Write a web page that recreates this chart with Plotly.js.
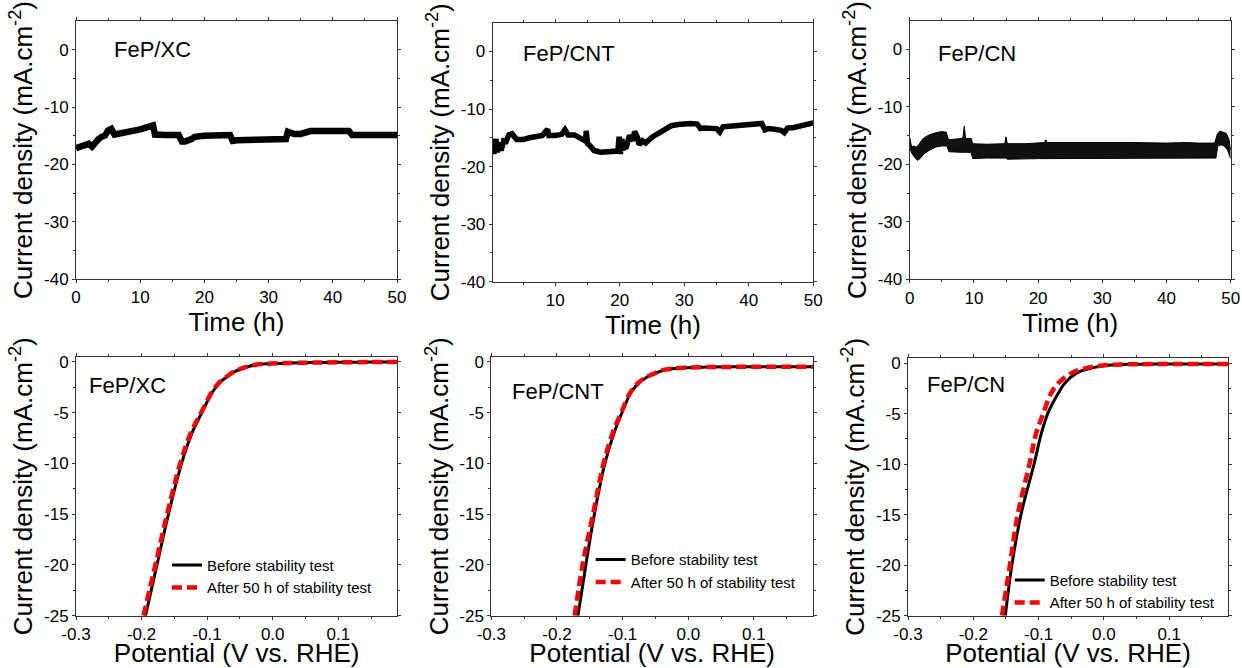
<!DOCTYPE html>
<html>
<head>
<meta charset="utf-8">
<script src="https://cdn.plot.ly/plotly-3.0.1.min.js"></script>
<style>html,body{margin:0;padding:0;background:#fff;}#chart{width:1242px;height:668px;}</style>
</head>
<body>
<div id="chart"></div>
<script>
// ---------- DATA ----------
var panelLabels = ['FeP/XC', 'FeP/CNT', 'FeP/CN'];
var seriesNames = ['Before stability test', 'After 50 h of stability test'];

// chronoamperometry, FeP/XC
var xcTime = [0, 1, 2, 2.5, 3, 3.5, 4, 4.5, 5, 5.5, 6, 8, 10, 12, 12.3, 14, 16, 16.5, 17, 18, 18.5, 20, 22, 24, 24.4, 25, 28, 30, 32.7, 33, 34, 35, 36.5, 38, 40, 42.5, 43, 45, 48, 50];
var xcJ = [-17.2, -16.8, -16.4, -16.9, -16.0, -15.6, -15.2, -15.0, -14.1, -13.8, -14.8, -14.4, -13.9, -13.2, -14.8, -14.9, -14.9, -16.0, -16.0, -15.6, -15.2, -15.0, -14.9, -14.9, -15.9, -15.8, -15.7, -15.6, -15.6, -14.3, -14.7, -14.7, -14.2, -14.2, -14.2, -14.2, -14.9, -14.9, -14.9, -14.9];

// chronoamperometry, FeP/CNT
var cntTime = [0.3, 0.5, 0.8, 1.0, 1.3, 1.6, 2.0, 2.4, 2.8, 3.3, 4, 5, 6, 7, 8, 8.8, 9, 10, 11, 11.5, 12, 13, 14, 14.7, 14.8, 15, 15.5, 16, 17, 18, 19, 19.7, 19.9, 20.1, 20.3, 20.6, 21, 21.5, 22, 22.3, 22.7, 23, 23.5, 24, 25, 26, 27, 28, 29, 30, 31, 32, 32.5, 33, 34, 35, 35.5, 36, 37, 38, 40, 41, 42, 42.5, 43, 44, 45, 45.5, 46, 47, 48, 50];
var cntJ = [-15.5, -17.8, -15.2, -17.5, -15.8, -17.2, -15.5, -15.6, -14.5, -14.3, -15.3, -15.3, -15.0, -14.8, -14.6, -13.5, -14.6, -14.6, -14.4, -13.6, -14.5, -14.5, -15.2, -15.6, -13.8, -16.0, -16.5, -17.2, -17.5, -17.4, -17.2, -17.3, -14.8, -17.8, -15.2, -16.8, -16.6, -14.6, -15.5, -13.9, -14.8, -16.2, -15.5, -15.9, -14.9, -14.3, -13.5, -12.9, -12.7, -12.5, -12.5, -12.6, -13.4, -13.3, -13.3, -13.4, -14.0, -13.1, -13.0, -12.9, -12.5, -12.4, -12.5, -13.6, -13.4, -13.5, -13.7, -14.1, -13.3, -13.2, -12.9, -12.4];

// chronoamperometry, FeP/CN (noisy band: lower and upper envelopes)
var cnLowTime = [0, 0.4, 0.8, 1.2, 1.6, 2.2, 3, 4, 5, 5.8, 6.1, 7, 8, 9, 9.6, 9.8, 12, 15, 15.2, 20, 25, 30, 35, 40, 45, 47.7, 48.0, 48.5, 49, 49.5, 50];
var cnLowJ = [-17.2, -18.2, -18.8, -19.3, -19.0, -18.2, -17.6, -17.0, -16.8, -16.8, -17.8, -17.9, -17.9, -17.9, -18.0, -19.0, -18.9, -18.9, -19.1, -19.0, -19.0, -19.0, -19.0, -19.0, -19.0, -18.9, -16.8, -16.6, -16.8, -17.5, -19.0];
var cnHighTime = [0, 0.3, 0.6, 1.0, 1.4, 2.0, 2.5, 3, 4, 5, 5.7, 6.0, 6.3, 7, 8, 8.3, 8.5, 8.7, 9, 9.6, 9.8, 12, 14.8, 15.0, 15.2, 18, 21.0, 21.2, 21.4, 25, 30, 35, 40, 43, 45, 47.5, 47.9, 48.3, 48.8, 49.3, 49.7, 50];
var cnHighJ = [-15.3, -17.0, -16.8, -17.0, -16.6, -15.6, -15.2, -14.9, -14.5, -14.3, -14.4, -15.6, -15.7, -15.6, -15.5, -15.3, -13.3, -15.5, -15.5, -15.5, -16.4, -16.5, -16.4, -15.2, -16.4, -16.4, -16.2, -15.7, -16.2, -16.2, -16.1, -16.2, -16.3, -16.2, -16.3, -16.3, -14.8, -14.2, -14.4, -14.6, -15.5, -17.5];

// polarization curves
var xcJpol = [-25, -20, -15, -10, -7, -5, -3, -2, -1.4, -1, -0.7, -0.5, -0.3, -0.2, -0.13, -0.08, -0.05, -0.03, -0.02];
var xcVbefore = [-0.194, -0.1765, -0.159, -0.139, -0.123, -0.108, -0.092, -0.080, -0.068, -0.059, -0.048, -0.039, -0.025, -0.008, 0.02, 0.06, 0.1, 0.15, 0.19];
var xcVafter = [-0.197, -0.179, -0.161, -0.141, -0.125, -0.109, -0.093, -0.081, -0.069, -0.060, -0.049, -0.040, -0.026, -0.009, 0.02, 0.06, 0.1, 0.15, 0.19];

var cntJpol = [-25, -20, -15, -10, -7, -5, -3, -2, -1.6, -1.3, -0.8, -0.6, -0.52, -0.5, -0.5, -0.5];
var cntVbefore = [-0.168, -0.156, -0.143, -0.127, -0.113, -0.101, -0.087, -0.074, -0.065, -0.056, -0.036, -0.010, 0.03, 0.08, 0.13, 0.19];
var cntVafter = [-0.173, -0.161, -0.145, -0.129, -0.115, -0.102, -0.088, -0.075, -0.066, -0.057, -0.037, -0.011, 0.03, 0.08, 0.13, 0.19];

var cnJpol = [-25, -20, -15, -10, -7, -5, -3, -2, -1, -0.5, -0.2, -0.12, -0.1, -0.1, -0.1];
var cnVbefore = [-0.151, -0.141, -0.127, -0.107, -0.096, -0.086, -0.070, -0.060, -0.042, -0.019, 0.011, 0.05, 0.1, 0.15, 0.19];
var cnVafter = [-0.156, -0.144, -0.132, -0.114, -0.104, -0.093, -0.081, -0.070, -0.050, -0.027, 0.005, 0.05, 0.1, 0.15, 0.19];

// tick labels
var topXTicks = [0, 10, 20, 30, 40, 50];
var topXText = ['0', '10', '20', '30', '40', '50'];
var topXMinor = [5, 15, 25, 35, 45];
var topYTicks = [-40, -30, -20, -10, 0];
var topYText = ['-40', '-30', '-20', '-10', '0'];
var topYMinor = [-35, -25, -15, -5];
var botXTicks = [-0.3, -0.2, -0.1, 0, 0.1];
var botXText = ['-0.3', '-0.2', '-0.1', '0.0', '0.1'];
var botXMinor = [-0.25, -0.15, -0.05, 0.05, 0.15];
var botYTicks = [-25, -20, -15, -10, -5, 0];
var botYText = ['-25', '-20', '-15', '-10', '-5', '0'];
var botYMinor = [-22.5, -17.5, -12.5, -7.5, -2.5];

var timeTitle = 'Time (h)';
var potTitle = 'Potential (V vs. RHE)';
var jTitle = 'Current density (mA.cm<sup>-2</sup>)';

// ---------- LAYOUT HELPERS ----------
var W = 1242, H = 668;
function dx(a, b) { return [a / W, b / W]; }
function dy(top, bottom) { return [1 - bottom / H, 1 - top / H]; }

var tickFont = {family: 'Liberation Sans, Arial, sans-serif', size: 17, color: '#000'};
var titleFont = {family: 'Liberation Sans, Arial, sans-serif', size: 26, color: '#000'};
var legFont = {family: 'Liberation Sans, Arial, sans-serif', size: 15, color: '#000'};

function minorOf(vals) {
  return {ticks: 'outside', ticklen: 2, tickcolor: '#333', showgrid: false, tickmode: 'array', tickvals: vals};
}
function axis(opts) {
  var a = {
    showline: true, linecolor: '#333', linewidth: 1, mirror: 'allticks',
    ticks: 'outside', ticklen: 3, tickwidth: 1, tickcolor: '#333',
    showgrid: false, zeroline: false, fixedrange: true,
    tickfont: tickFont, tickmode: 'array'
  };
  for (var k in opts) a[k] = opts[k];
  return a;
}

var layout = {
  width: W, height: H,
  margin: {l: 0, r: 0, t: 0, b: 0},
  paper_bgcolor: '#fff', plot_bgcolor: '#fff',
  showlegend: true,
  annotations: [],
  legend: {x: 167 / W, y: 1 - 548.8 / H, xanchor: 'left', yanchor: 'top', traceorder: 'normal', bgcolor: 'rgba(0,0,0,0)', font: legFont},
  legend2: {x: 590.7 / W, y: 1 - 543.3 / H, xanchor: 'left', yanchor: 'top', traceorder: 'normal', bgcolor: 'rgba(0,0,0,0)', font: legFont},
  legend3: {x: 1009.7 / W, y: 1 - 563.8 / H, xanchor: 'left', yanchor: 'top', traceorder: 'normal', bgcolor: 'rgba(0,0,0,0)', font: legFont}
};

var topDomX = [dx(76, 397), dx(492.7, 813.3), dx(909.7, 1230.7)];
var topDomY = [dy(21, 279), dy(22.7, 281.7), dy(20.7, 279.3)];
var botDomX = [dx(76, 397.3), dx(491.3, 813), dx(908, 1228)];
var botDomY = [dy(356.7, 615.7), dy(356.7, 615.7), dy(358, 615.7)];
var topXRange = [[0, 50], [0.3, 50], [0, 50]];

for (var i = 0; i < 3; i++) {
  var n = i + 1, nb = i + 4;
  var xs = n === 1 ? '' : String(n);
  layout['xaxis' + xs] = axis({domain: topDomX[i], anchor: 'y' + xs, range: topXRange[i],
    tickvals: topXTicks, ticktext: topXText, minor: minorOf(topXMinor),
    title: {text: timeTitle, font: titleFont, standoff: 3}});
  layout['yaxis' + xs] = axis({domain: topDomY[i], anchor: 'x' + xs, range: [-40, 5],
    tickvals: topYTicks, ticktext: topYText, minor: minorOf(topYMinor),
    title: {text: jTitle, font: titleFont, standoff: 3}});
  layout['xaxis' + nb] = axis({domain: botDomX[i], anchor: 'y' + nb, range: [-0.3, 0.19],
    tickvals: botXTicks, ticktext: botXText, minor: minorOf(botXMinor),
    title: {text: potTitle, font: titleFont, standoff: 3}});
  layout['yaxis' + nb] = axis({domain: botDomY[i], anchor: 'x' + nb, range: [-25, 0.5],
    tickvals: botYTicks, ticktext: botYText, minor: minorOf(botYMinor),
    title: {text: jTitle, font: titleFont, standoff: 3}});
}

var labelFont = {family: 'Liberation Sans, Arial, sans-serif', size: 22, color: '#000'};
var labelPos = [
  ['x', 'y', 0.112, 0.888], ['x2', 'y2', 0.089, 0.882], ['x3', 'y3', 0.083, 0.874],
  ['x4', 'y4', 0.034, 0.888], ['x5', 'y5', 0.057, 0.866], ['x6', 'y6', 0.054, 0.896]
];
labelPos.forEach(function (p, k) {
  layout.annotations.push({text: panelLabels[k % 3], xref: p[0] + ' domain', yref: p[1] + ' domain',
    x: p[2], y: p[3], xanchor: 'left', yanchor: 'middle', showarrow: false, font: labelFont});
});

// ---------- TRACES ----------
var data = [];
data.push({x: xcTime, y: xcJ, xaxis: 'x', yaxis: 'y', mode: 'lines', showlegend: false,
  line: {color: '#000', width: 6.5}, hoverinfo: 'skip'});
data.push({x: cntTime, y: cntJ, xaxis: 'x2', yaxis: 'y2', mode: 'lines', showlegend: false,
  line: {color: '#000', width: 5.5}, hoverinfo: 'skip'});
data.push({x: cnLowTime, y: cnLowJ, xaxis: 'x3', yaxis: 'y3', mode: 'lines', showlegend: false, legend: 'legend3',
  line: {color: '#000', width: 1}, hoverinfo: 'skip'});
data.push({x: cnHighTime, y: cnHighJ, xaxis: 'x3', yaxis: 'y3', mode: 'lines', showlegend: false, legend: 'legend3',
  fill: 'tonexty', fillcolor: '#111', line: {color: '#000', width: 1}, hoverinfo: 'skip'});

var pol = [
  [xcVbefore, xcVafter, xcJpol, 'x4', 'y4', 'legend'],
  [cntVbefore, cntVafter, cntJpol, 'x5', 'y5', 'legend2'],
  [cnVbefore, cnVafter, cnJpol, 'x6', 'y6', 'legend3']
];
pol.forEach(function (p) {
  data.push({x: p[0], y: p[2], xaxis: p[3], yaxis: p[4], mode: 'lines', name: seriesNames[0], legend: p[5],
    line: {color: '#000', width: 3, shape: 'spline'}, hoverinfo: 'skip'});
  data.push({x: p[1], y: p[2], xaxis: p[3], yaxis: p[4], mode: 'lines', name: seriesNames[1], legend: p[5],
    line: {color: '#ff0000', width: 4.5, dash: '10px,5px', shape: 'spline'}, hoverinfo: 'skip'});
});

Plotly.newPlot('chart', data, layout, {staticPlot: true, displayModeBar: false});
</script>
</body>
</html>
